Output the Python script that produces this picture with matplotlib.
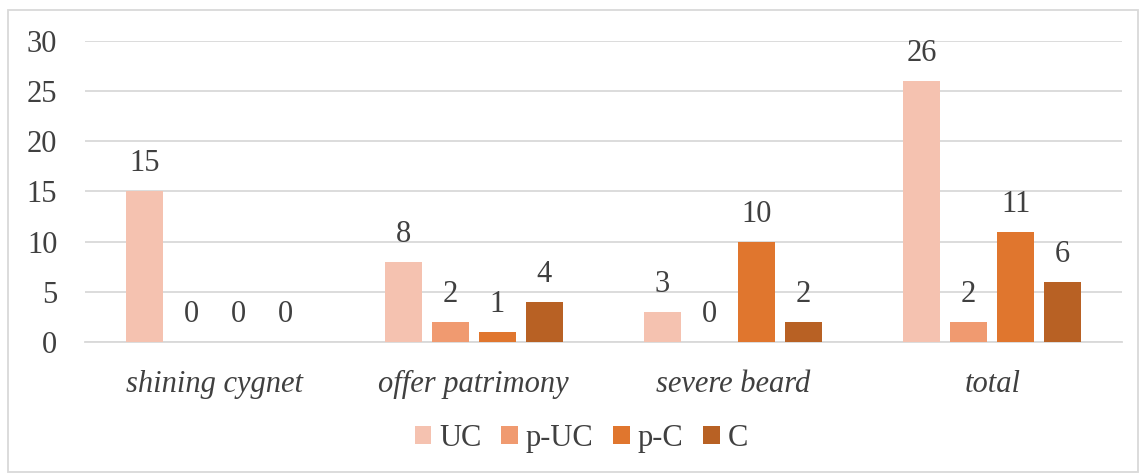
import matplotlib.pyplot as plt
import numpy as np
from matplotlib.patches import Rectangle

plt.rcParams['font.family'] = ['Liberation Serif', 'DejaVu Serif']

categories = ['shining cygnet', 'offer patrimony', 'severe beard', 'total']
series = ['UC', 'p-UC', 'p-C', 'C']
values = {
    'UC':   [15, 8, 3, 26],
    'p-UC': [0, 2, 0, 2],
    'p-C':  [0, 1, 10, 11],
    'C':    [0, 4, 2, 6],
}
colors = ['#F5C2B0', '#F09A70', '#E0762E', '#B86124']

fig = plt.figure(figsize=(11.4, 4.74), dpi=100)
ax = fig.add_axes([0.0746, 0.2785, 0.9094, 0.635])

x = np.arange(len(categories))
pitch = 0.181
width = 0.143
fs = 22
for i, s in enumerate(series):
    pos = x + (i - 1.5) * pitch
    bars = ax.bar(pos, values[s], width, color=colors[i], label=s, zorder=3)
    for b, v in zip(bars, values[s]):
        ax.text(b.get_x() + b.get_width() / 2, v + 1.3, str(v),
                ha='center', va='bottom', fontsize=fs, color='#404040')

ax.set_xlim(-0.5, 3.5)
ax.set_ylim(0, 30)
ax.set_yticks(range(0, 31, 5))
ax.set_xticks(x)
ax.set_xticklabels(categories, style='italic')
ax.tick_params(axis='both', length=0, labelsize=fs, colors='#404040')
ax.tick_params(axis='x', pad=20)
ax.tick_params(axis='y', pad=20)
ax.grid(axis='y', color='#D9D9D9', linewidth=1.3, zorder=0)
for sp in ['top', 'right', 'left']:
    ax.spines[sp].set_visible(False)
ax.spines['bottom'].set_color('#D9D9D9')
ax.spines['bottom'].set_linewidth(1.3)

fig.legend(loc='center', bbox_to_anchor=(0.51, 0.075), ncol=4, frameon=False,
           fontsize=fs, handlelength=0.55, handleheight=0.55, handletextpad=0.25,
           columnspacing=0.65, labelcolor='#404040')

fig.patches.append(Rectangle((0.007, 0.004), 0.991, 0.975, transform=fig.transFigure,
                             fill=False, edgecolor='#D9D9D9', linewidth=1.3))

fig.savefig('out.png', dpi=100)
